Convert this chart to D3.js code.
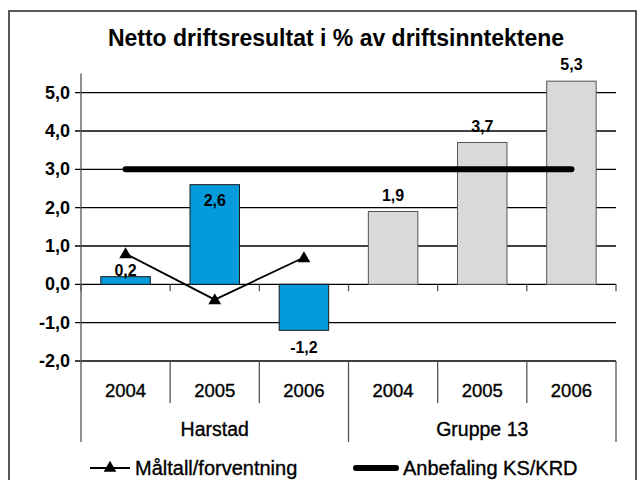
<!DOCTYPE html>
<html lang="no">
<head>
<meta charset="UTF-8">
<title>Netto driftsresultat</title>
<script src="https://cdn.jsdelivr.net/npm/d3@7"></script>
<style>
  body { margin: 0; background: #fff; }
  svg { display: block; font-family: "Liberation Sans", Arial, sans-serif; }
</style>
</head>
<body>
<svg width="639" height="480"></svg>
<script>
// values
const years = ["2004", "2005", "2006", "2004", "2005", "2006"];
const groups = ["Harstad", "Gruppe 13"];
const groupOf = [0, 0, 0, 1, 1, 1];
const results = [0.2, 2.6, -1.2, 1.9, 3.7, 5.3];
const targets = [0.8, -0.4, 0.7];          // Måltall/forventning, Harstad only
const recommendation = 3.0;                // Anbefaling KS/KRD
const yTicks = [-2, -1, 0, 1, 2, 3, 4, 5];
const legendLabels = ["Måltall/forventning", "Anbefaling KS/KRD"];

const loc = d3.formatLocale({ decimal: ",", thousands: " ", grouping: [3], currency: ["", ""], minus: "-" });
const fmt = loc.format(".1f");

const svg = d3.select("svg");
const plotL = 81, plotR = 616, plotT = 73.5, plotB = 361;

const x = d3.scaleBand().domain(d3.range(years.length)).range([plotL, plotR])
  .paddingInner(0.445).paddingOuter(0.2225);
const step = x.step();
const y = d3.scaleLinear().domain([-2, 5.5]).range([plotB, plotT]);
const cx = i => x(i) + x.bandwidth() / 2;

// outer frame
svg.append("rect").attr("x", 9).attr("y", 11).attr("width", 627).attr("height", 475)
  .attr("fill", "none").attr("stroke", "#222").attr("stroke-width", 1.5);

// title
svg.append("text").attr("x", 336).attr("y", 46).attr("text-anchor", "middle")
  .attr("font-size", 23).attr("font-weight", "bold").text("Netto driftsresultat i % av driftsinntektene");

// gridlines + y labels
svg.append("g").selectAll("line").data(yTicks).join("line")
  .attr("x1", plotL - 6).attr("x2", plotR).attr("y1", d => y(d)).attr("y2", d => y(d))
  .attr("stroke", "#000").attr("stroke-width", 1.3);
svg.append("g").selectAll("text").data(yTicks).join("text")
  .attr("x", 70).attr("y", d => y(d) + 6).attr("text-anchor", "end")
  .attr("font-size", 18).attr("font-weight", "bold").text(d => fmt(d));

// bars
svg.append("g").selectAll("rect").data(results).join("rect")
  .attr("x", (d, i) => x(i)).attr("width", x.bandwidth())
  .attr("y", d => y(Math.max(0, d))).attr("height", d => Math.abs(y(d) - y(0)))
  .attr("fill", (d, i) => groupOf[i] === 0 ? "#049bdc" : "#d9d9db")
  .attr("stroke", (d, i) => groupOf[i] === 0 ? "#1a1a1a" : "#555").attr("stroke-width", 1);

// small ticks under the zero line at category borders
const borders = d3.range(years.length + 1).map(i => plotL + i * step);
svg.append("g").selectAll("line").data(borders).join("line")
  .attr("x1", d => d).attr("x2", d => d).attr("y1", y(0)).attr("y2", y(0) + 7)
  .attr("stroke", "#555").attr("stroke-width", 1.3);

// y axis
svg.append("line").attr("x1", plotL).attr("x2", plotL).attr("y1", plotT).attr("y2", 442)
  .attr("stroke", "#555").attr("stroke-width", 1.3);

// category dividers in the label area
svg.append("g").selectAll("line").data(borders.slice(1)).join("line")
  .attr("x1", d => d).attr("x2", d => d).attr("y1", plotB)
  .attr("y2", (d, i) => (i + 1) % 3 === 0 ? 442 : 403)
  .attr("stroke", "#555").attr("stroke-width", 1.3);

svg.append("g").selectAll("text").data(years).join("text")
  .attr("x", (d, i) => cx(i)).attr("y", 396.5).attr("text-anchor", "middle")
  .attr("font-size", 18.5).attr("stroke", "#000").attr("stroke-width", 0.35).text(d => d);
svg.append("g").selectAll("text").data(groups).join("text")
  .attr("x", (d, g) => plotL + (g * 3 + 1.5) * step).attr("y", 436).attr("text-anchor", "middle")
  .attr("font-size", 19.5).attr("stroke", "#000").attr("stroke-width", 0.35).text(d => d);

// recommendation line
svg.append("line").attr("x1", cx(0)).attr("x2", cx(years.length - 1))
  .attr("y1", y(recommendation)).attr("y2", y(recommendation))
  .attr("stroke", "#000").attr("stroke-width", 6).attr("stroke-linecap", "round");

// target line with triangles
const tri = d3.symbol().type(d3.symbolTriangle).size(70);
svg.append("path").datum(targets)
  .attr("d", d3.line().x((d, i) => cx(i)).y(d => y(d)))
  .attr("fill", "none").attr("stroke", "#000").attr("stroke-width", 1.8);
svg.append("g").selectAll("path").data(targets).join("path")
  .attr("transform", (d, i) => `translate(${cx(i)},${y(d) + 1})`).attr("d", tri).attr("fill", "#000");

// data labels, nudged away from the lines like in the original
svg.append("g").selectAll("text").data(results).join("text")
  .attr("x", (d, i) => cx(i))
  .attr("y", (d, i) => {
    if (d < 0) return y(d) + 22.5;
    let base = y(d) - 11;
    if (Math.abs(base - 5.5 - y(recommendation)) < 8) return y(d) + 21.5;
    if (i < targets.length && Math.abs(base - 5.5 - y(targets[i])) < 8) return y(d) - 1;
    return base;
  })
  .attr("text-anchor", "middle").attr("font-size", 16).attr("font-weight", "bold")
  .text(d => fmt(d));

// legend
const ly = 468;
svg.append("line").attr("x1", 90).attr("x2", 130).attr("y1", ly).attr("y2", ly)
  .attr("stroke", "#000").attr("stroke-width", 1.8);
svg.append("path").attr("transform", `translate(110,${ly})`).attr("d", tri).attr("fill", "#000");
svg.append("text").attr("x", 135).attr("y", ly + 7).attr("font-size", 20)
  .attr("stroke", "#000").attr("stroke-width", 0.35).text(legendLabels[0]);
svg.append("line").attr("x1", 356).attr("x2", 396).attr("y1", ly).attr("y2", ly)
  .attr("stroke", "#000").attr("stroke-width", 6).attr("stroke-linecap", "round");
svg.append("text").attr("x", 403).attr("y", ly + 7).attr("font-size", 20)
  .attr("stroke", "#000").attr("stroke-width", 0.35).text(legendLabels[1]);
</script>
</body>
</html>
